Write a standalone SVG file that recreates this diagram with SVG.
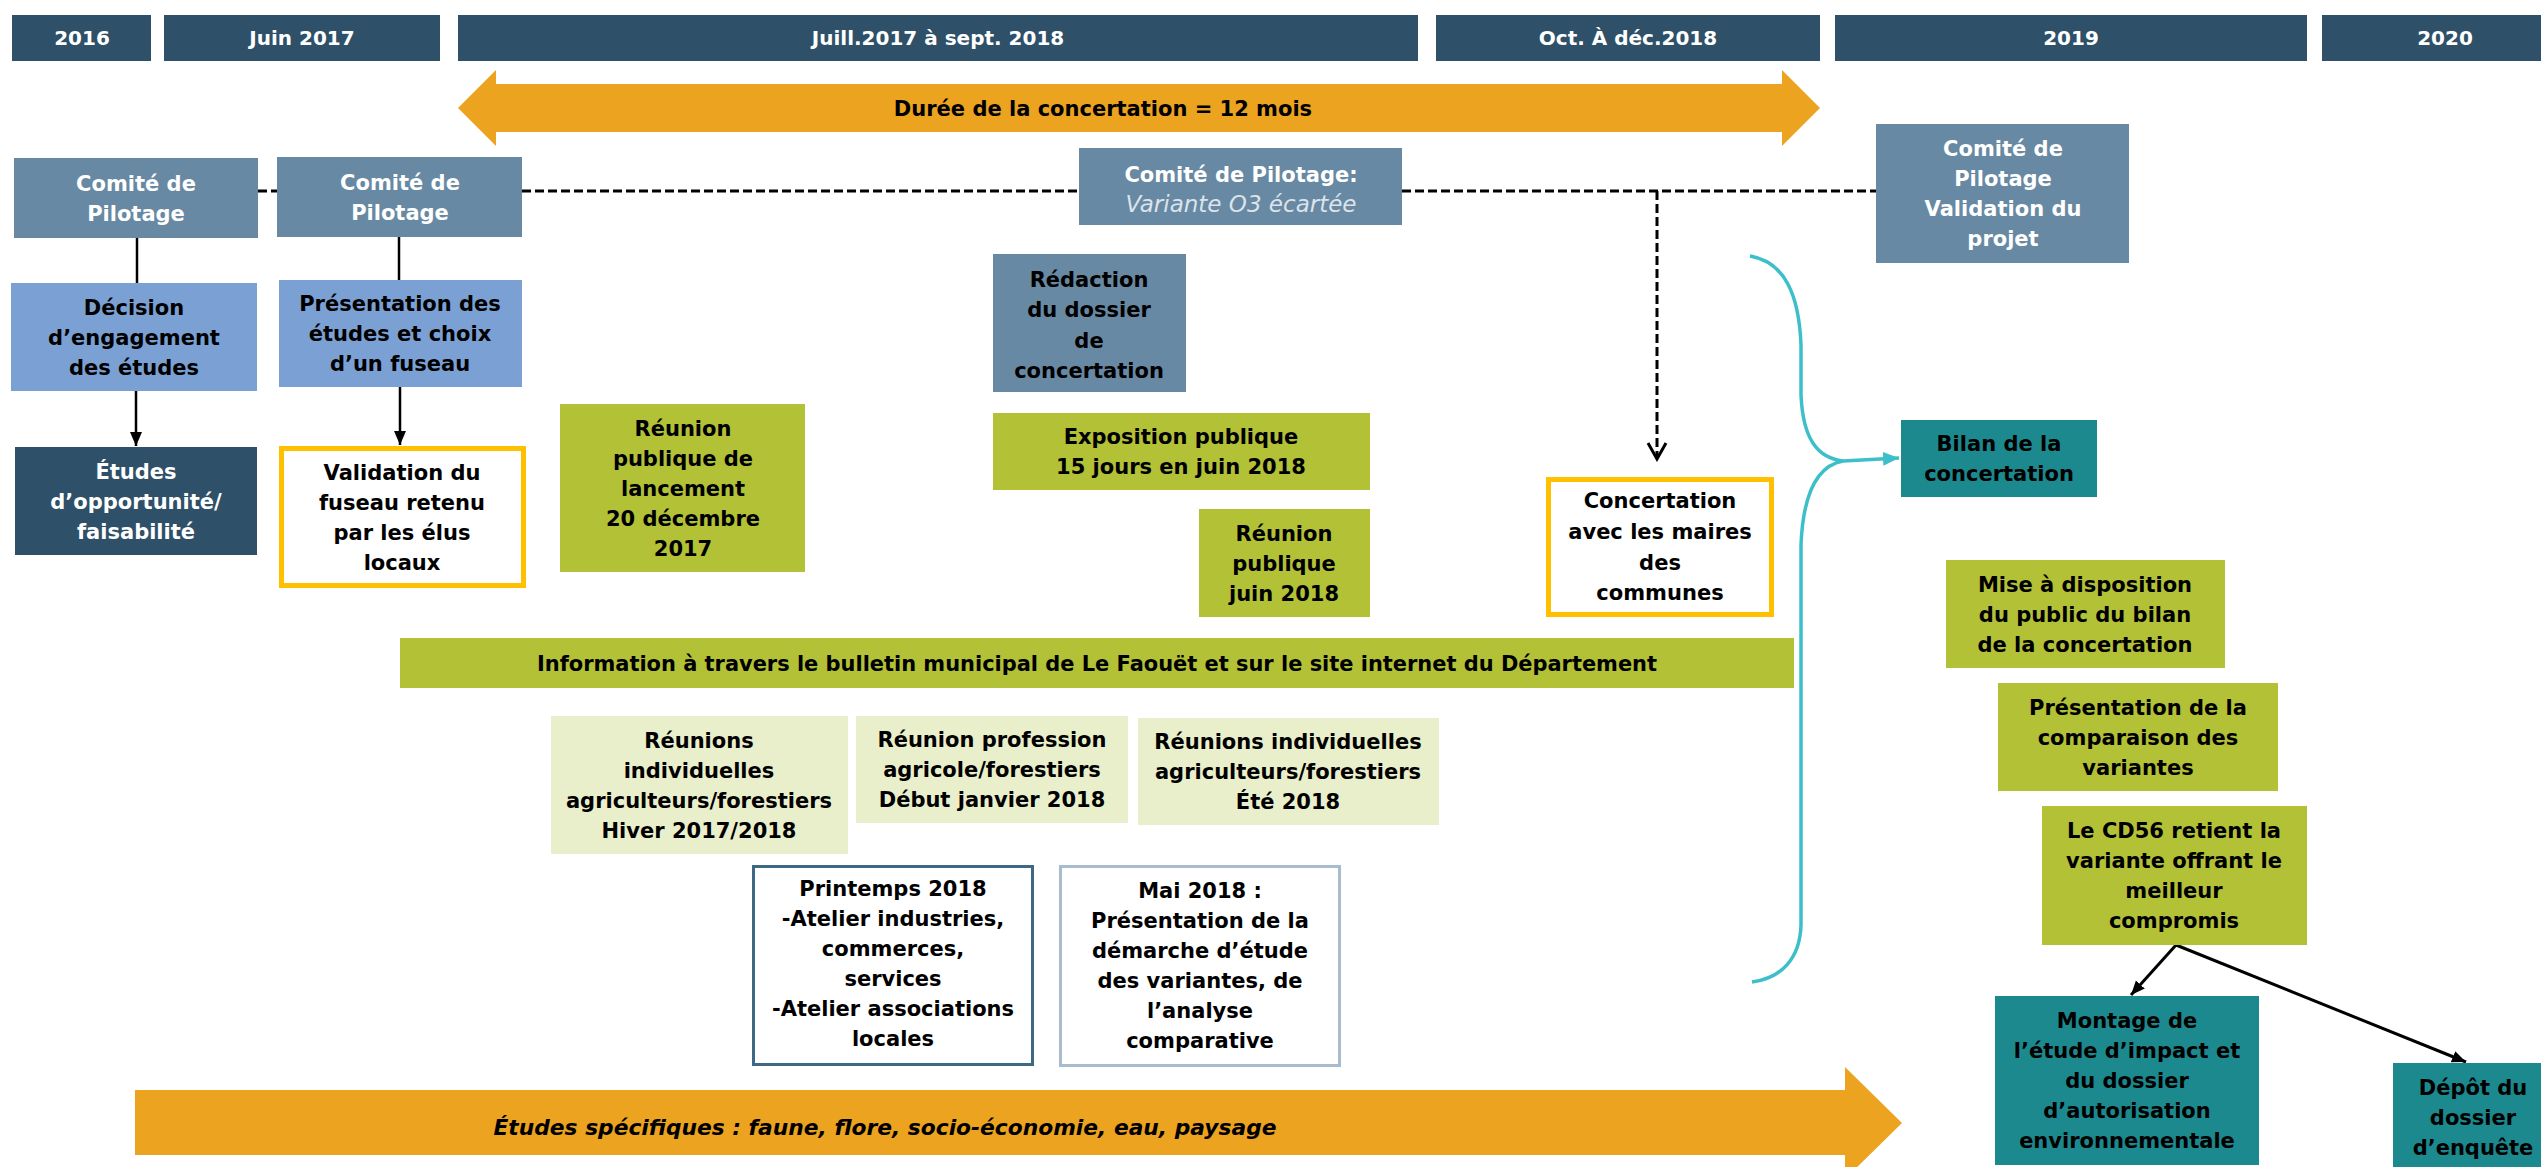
<svg xmlns="http://www.w3.org/2000/svg" width="2541" height="1167" viewBox="0 0 2541 1167">
<style>
.t{font-family:"DejaVu Sans",sans-serif;font-weight:bold;font-size:21px;text-anchor:middle;fill:#000}
.w{fill:#fff}
.h{font-size:20px}
.it{font-weight:normal;font-style:italic;font-size:23px;fill:#DCE3EA}
.bi{font-style:italic}
.hdr{fill:#2E5068}
.cp{fill:#6789A3}
.lb{fill:#7BA1D4}
.gr{fill:#B3C137}
.lg{fill:#EAEFCB}
.tl{fill:#1B898E}
.gold{fill:#fff;stroke:#FFC000;stroke-width:5}
.con{fill:none;stroke:#000;stroke-width:2.5}
.con3{fill:none;stroke:#000;stroke-width:3}
.dash{fill:none;stroke:#000;stroke-width:3;stroke-dasharray:9 4}
.brace{fill:none;stroke:#3DBFCA;stroke-width:3.5}
.orange{fill:#ECA31F}
</style>
<defs>
<marker id="ah" markerUnits="userSpaceOnUse" markerWidth="16" markerHeight="16" refX="14" refY="8" orient="auto">
<path d="M0,2 L14,8 L0,14 Z" fill="#000"/>
</marker>
<marker id="av" markerUnits="userSpaceOnUse" markerWidth="20" markerHeight="22" refX="17" refY="11" orient="auto">
<path d="M1,2 L17,11 L1,20" fill="none" stroke="#000" stroke-width="3"/>
</marker>
<marker id="ac" markerUnits="userSpaceOnUse" markerWidth="18" markerHeight="18" refX="16" refY="9" orient="auto">
<path d="M0,2 L16,9 L0,16 Z" fill="#3DBFCA"/>
</marker>
</defs>
<rect width="2541" height="1167" fill="#fff"/>

<g id="headers">
<g id="h2016"><rect class="hdr" x="12" y="15" width="139" height="46"/><text class="t w h" x="82" y="45">2016</text></g>
<g id="hjuin2017"><rect class="hdr" x="164" y="15" width="276" height="46"/><text class="t w h" x="302" y="45">Juin 2017</text></g>
<g id="hjuill"><rect class="hdr" x="458" y="15" width="960" height="46"/><text class="t w h" x="938" y="45">Juill.2017 à sept. 2018</text></g>
<g id="hoct"><rect class="hdr" x="1436" y="15" width="384" height="46"/><text class="t w h" x="1628" y="45">Oct. À déc.2018</text></g>
<g id="h2019"><rect class="hdr" x="1835" y="15" width="472" height="46"/><text class="t w h" x="2071" y="45">2019</text></g>
<g id="h2020"><rect class="hdr" x="2322" y="15" width="230" height="46"/><text class="t w h" x="2445" y="45">2020</text></g>
</g>

<g id="duree">
<polygon class="orange" points="458,108 496,70 496,84 1782,84 1782,70 1820,108 1782,146 1782,132 496,132 496,146"/>
<text class="t" x="1103" y="116">Durée de la concertation = 12 mois</text>
</g>

<g id="etudes-specifiques">
<polygon class="orange" points="135,1090 1845,1090 1845,1067 1902,1123 1845,1179 1845,1155 135,1155"/>
<text class="t bi" x="885" y="1135" textLength="783" lengthAdjust="spacingAndGlyphs">Études spécifiques : faune, flore, socio-économie, eau, paysage</text>
</g>

<g id="connectors">
<line class="dash" x1="258" y1="191" x2="277" y2="191"/>
<line class="dash" x1="522" y1="191" x2="1079" y2="191"/>
<line class="dash" x1="1402" y1="191" x2="1876" y2="191"/>
<line class="dash" x1="1657" y1="191" x2="1657" y2="459" marker-end="url(#av)"/>
<line class="con" x1="137" y1="238" x2="137" y2="283"/>
<line class="con" x1="399" y1="237" x2="399" y2="280"/>
<line class="con" x1="136" y1="391" x2="136" y2="446" marker-end="url(#ah)"/>
<line class="con" x1="400" y1="387" x2="400" y2="445" marker-end="url(#ah)"/>
<path class="brace" d="M1750,256 C1785,262 1799,295 1801,345 L1801,395 C1803,440 1818,458 1843,461 C1816,466 1803,495 1801,545 L1801,925 C1800,958 1782,978 1752,982"/>
<line class="brace" x1="1843" y1="461" x2="1899" y2="458" marker-end="url(#ac)"/>
<line class="con3" x1="2176" y1="945" x2="2131" y2="995" marker-end="url(#ah)"/>
<line class="con3" x1="2176" y1="945" x2="2466" y2="1062" marker-end="url(#ah)"/>
</g>

<g id="comite1"><rect class="cp" x="14" y="158" width="244" height="80"/><text class="t w" x="136" y="191">Comité de</text><text class="t w" x="136" y="221">Pilotage</text></g>
<g id="comite2"><rect class="cp" x="277" y="157" width="245" height="80"/><text class="t w" x="400" y="190">Comité de</text><text class="t w" x="400" y="220">Pilotage</text></g>
<g id="comite3"><rect class="cp" x="1079" y="148" width="323" height="77"/><text class="t w" x="1241" y="182">Comité de Pilotage:</text><text class="t it" x="1241" y="212">Variante O3 écartée</text></g>
<g id="comite4"><rect class="cp" x="1876" y="124" width="253" height="139"/><text class="t w" x="2003" y="156">Comité de</text><text class="t w" x="2003" y="186">Pilotage</text><text class="t w" x="2003" y="216">Validation du</text><text class="t w" x="2003" y="246">projet</text></g>

<g id="decision"><rect class="lb" x="11" y="283" width="246" height="108"/><text class="t" x="134" y="315">Décision</text><text class="t" x="134" y="345">d’engagement</text><text class="t" x="134" y="375">des études</text></g>
<g id="presentation"><rect class="lb" x="279" y="280" width="243" height="107"/><text class="t" x="400" y="311">Présentation des</text><text class="t" x="400" y="341">études et choix</text><text class="t" x="400" y="371">d’un fuseau</text></g>
<g id="etudes-opp"><rect class="hdr" x="15" y="447" width="242" height="108"/><text class="t w" x="136" y="479">Études</text><text class="t w" x="136" y="509">d’opportunité/</text><text class="t w" x="136" y="539">faisabilité</text></g>
<g id="validation"><rect class="gold" x="281.5" y="448.5" width="242" height="137"/><text class="t" x="402" y="480">Validation du</text><text class="t" x="402" y="510">fuseau retenu</text><text class="t" x="402" y="540">par les élus</text><text class="t" x="402" y="570">locaux</text></g>
<g id="reunion-lancement"><rect class="gr" x="560" y="404" width="245" height="168"/><text class="t" x="683" y="436">Réunion</text><text class="t" x="683" y="466">publique de</text><text class="t" x="683" y="496">lancement</text><text class="t" x="683" y="526">20 décembre</text><text class="t" x="683" y="556">2017</text></g>

<g id="redaction"><rect class="cp" x="993" y="254" width="193" height="138"/><text class="t" x="1089" y="287">Rédaction</text><text class="t" x="1089" y="317">du dossier</text><text class="t" x="1089" y="348">de</text><text class="t" x="1089" y="378">concertation</text></g>
<g id="exposition"><rect class="gr" x="993" y="413" width="377" height="77"/><text class="t" x="1181" y="444">Exposition publique</text><text class="t" x="1181" y="474">15 jours en juin 2018</text></g>
<g id="reunion-juin"><rect class="gr" x="1199" y="509" width="171" height="108"/><text class="t" x="1284" y="541">Réunion</text><text class="t" x="1284" y="571">publique</text><text class="t" x="1284" y="601">juin 2018</text></g>
<g id="concertation-maires"><rect class="gold" x="1548.5" y="479.5" width="223" height="135"/><text class="t" x="1660" y="508">Concertation</text><text class="t" x="1660" y="539">avec les maires</text><text class="t" x="1660" y="570">des</text><text class="t" x="1660" y="600">communes</text></g>

<g id="information"><rect class="gr" x="400" y="638" width="1394" height="50"/><text class="t" x="1097" y="671" textLength="1120" lengthAdjust="spacingAndGlyphs">Information à travers le bulletin municipal de Le Faouët et sur le site internet du Département</text></g>

<g id="reunions-hiver"><rect class="lg" x="551" y="716" width="297" height="138"/><text class="t" x="699" y="748">Réunions</text><text class="t" x="699" y="778">individuelles</text><text class="t" x="699" y="808">agriculteurs/forestiers</text><text class="t" x="699" y="838">Hiver 2017/2018</text></g>
<g id="reunion-profession"><rect class="lg" x="856" y="716" width="272" height="107"/><text class="t" x="992" y="747">Réunion profession</text><text class="t" x="992" y="777">agricole/forestiers</text><text class="t" x="992" y="807">Début janvier 2018</text></g>
<g id="reunions-ete"><rect class="lg" x="1138" y="718" width="301" height="107"/><text class="t" x="1288" y="749">Réunions individuelles</text><text class="t" x="1288" y="779">agriculteurs/forestiers</text><text class="t" x="1288" y="809">Été 2018</text></g>

<g id="printemps"><rect x="753.5" y="866.5" width="279" height="198" fill="#fff" stroke="#3F6887" stroke-width="3"/><text class="t" x="893" y="896">Printemps 2018</text><text class="t" x="893" y="926">-Atelier industries,</text><text class="t" x="893" y="956">commerces,</text><text class="t" x="893" y="986">services</text><text class="t" x="893" y="1016">-Atelier associations</text><text class="t" x="893" y="1046">locales</text></g>
<g id="mai2018"><rect x="1060.5" y="866.5" width="279" height="199" fill="#fff" stroke="#A9BCCD" stroke-width="3"/><text class="t" x="1200" y="898">Mai 2018 :</text><text class="t" x="1200" y="928">Présentation de la</text><text class="t" x="1200" y="958">démarche d’étude</text><text class="t" x="1200" y="988">des variantes, de</text><text class="t" x="1200" y="1018">l’analyse</text><text class="t" x="1200" y="1048">comparative</text></g>

<g id="bilan"><rect class="tl" x="1901" y="420" width="196" height="77"/><text class="t" x="1999" y="451">Bilan de la</text><text class="t" x="1999" y="481">concertation</text></g>
<g id="mise-disposition"><rect class="gr" x="1946" y="560" width="279" height="108"/><text class="t" x="2085" y="592">Mise à disposition</text><text class="t" x="2085" y="622">du public du bilan</text><text class="t" x="2085" y="652">de la concertation</text></g>
<g id="presentation-comparaison"><rect class="gr" x="1998" y="683" width="280" height="108"/><text class="t" x="2138" y="715">Présentation de la</text><text class="t" x="2138" y="745">comparaison des</text><text class="t" x="2138" y="775">variantes</text></g>
<g id="cd56"><rect class="gr" x="2042" y="806" width="265" height="139"/><text class="t" x="2174" y="838">Le CD56 retient la</text><text class="t" x="2174" y="868">variante offrant le</text><text class="t" x="2174" y="898">meilleur</text><text class="t" x="2174" y="928">compromis</text></g>
<g id="montage"><rect class="tl" x="1995" y="996" width="264" height="169"/><text class="t" x="2127" y="1028">Montage de</text><text class="t" x="2127" y="1058">l’étude d’impact et</text><text class="t" x="2127" y="1088">du dossier</text><text class="t" x="2127" y="1118">d’autorisation</text><text class="t" x="2127" y="1148">environnementale</text></g>
<g id="depot"><rect class="tl" x="2393" y="1063" width="160" height="110"/><text class="t" x="2473" y="1095">Dépôt du</text><text class="t" x="2473" y="1125">dossier</text><text class="t" x="2473" y="1155">d’enquête</text></g>
</svg>
